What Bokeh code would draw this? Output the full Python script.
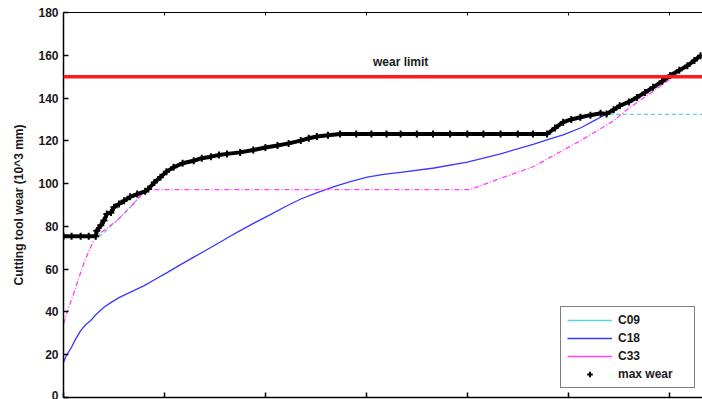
from bokeh.plotting import figure
from bokeh.models import (Range1d, LinearAxis, FixedTicker, Span, Label,
                          Legend, LegendItem)
from bokeh.embed import file_html
from bokeh.resources import INLINE

NAN = float("nan")

# ---- data ----
x_ticks = [0, 1, 2, 3, 4, 5, 6]
y_ticks = [0, 20, 40, 60, 80, 100, 120, 140, 160, 180]
wear_limit = 150

c09_x = [0.00, 0.33, 0.37, 0.53, 0.66, 0.78, 0.83, 0.96, 1.09, 1.29, 1.46, 1.62,
         1.88, 2.12, 2.35, 2.51, 2.74, 4.79, 4.95, 5.12, 5.32, 6.33]
c09_y = [75.5, 75.5, 75.7, 82.7, 88.9, 95.2, 97.2, 103.0, 107.6, 110.7, 112.6, 113.9,
         115.7, 117.8, 120.1, 122.0, 123.2, 123.2, 128.7, 131.0, 132.4, 132.4]

c18_x = [0.00, 0.03, 0.07, 0.12, 0.17, 0.22, 0.27, 0.33, 0.40, 0.48, 0.56, 0.68,
         0.80, 0.91, 1.03, 1.16, 1.29, 1.42, 1.55, 1.65, 1.75, 1.90, 2.05, 2.20,
         2.35, 2.52, 2.68, 2.85, 3.01, 3.17, 3.34, 3.67, 4.00, 4.33, 4.66, 4.82,
         4.95, 5.12, 5.28, 5.38, 5.51, 5.71, 5.91, 6.11, 6.31]
c18_y = [16.5, 19.8, 22.7, 27.3, 31.3, 34.0, 36.0, 39.2, 42.2, 44.7, 46.9, 49.6,
         52.3, 55.3, 58.5, 62.1, 65.6, 69.1, 72.6, 75.4, 78.0, 81.9, 85.5, 89.3,
         92.8, 95.9, 98.6, 101.0, 103.0, 104.3, 105.3, 107.3, 110.0, 113.9, 118.5, 120.9,
         122.8, 126.0, 130.0, 132.6, 136.4, 141.5, 147.5, 153.5, 159.8]

c33_x = [0.00, 0.05, 0.10, 0.15, 0.20, 0.25, 0.30, 0.34, 0.37, 0.53, 0.66, 0.78,
         0.83, 4.03, 4.33, 4.66, 4.79, 5.12, 5.45, 5.61, 5.78, 6.01, 6.16, 6.31]
c33_y = [34.4, 41.8, 48.5, 55.7, 62.5, 68.3, 73.4, 75.5, 77.0, 82.7, 88.9, 95.2,
         97.2, 97.2, 102.5, 108.0, 111.5, 120.0, 129.4, 135.6, 141.1, 148.9, 155.0, 159.8]

max_x = [0.00, 0.08, 0.17, 0.25, 0.32, 0.33, 0.37, 0.40, 0.43, 0.47, 0.50, 0.55,
         0.60, 0.66, 0.73, 0.81, 0.84, 0.90, 0.96, 1.02, 1.09, 1.18, 1.29, 1.37,
         1.46, 1.54, 1.62, 1.75, 1.88, 2.00, 2.12, 2.23, 2.35, 2.43, 2.51, 2.62,
         2.74, 2.90, 3.05, 3.20, 3.34, 3.50, 3.66, 3.83, 4.00, 4.16, 4.33, 4.50,
         4.65, 4.79, 4.87, 4.95, 5.03, 5.12, 5.22, 5.32, 5.38, 5.45, 5.51, 5.60,
         5.68, 5.76, 5.84, 5.93, 6.01, 6.10, 6.18, 6.25, 6.31]
max_y = [75.4, 75.4, 75.4, 75.4, 75.4, 78.0, 80.5, 82.7, 85.8, 86.5, 88.9, 90.5,
         92.0, 93.8, 95.1, 96.4, 97.5, 100.5, 103.0, 105.6, 107.6, 109.5, 110.7, 111.9,
         112.6, 113.4, 113.9, 114.6, 115.7, 116.9, 117.8, 118.8, 120.1, 121.2, 122.0, 122.6,
         123.2, 123.2, 123.2, 123.2, 123.2, 123.2, 123.2, 123.2, 123.2, 123.2, 123.2, 123.2,
         123.2, 123.2, 126.0, 128.7, 130.0, 131.0, 132.0, 132.9, 132.6, 134.5, 136.4, 138.2,
         140.3, 142.6, 145.0, 147.8, 150.5, 153.0, 155.1, 157.6, 159.8]

FONT = "Liberation Sans"
TXT = "#1a1a1a"
CYAN = "#55d5d5"
BLUE = "#3838ff"
MAGENTA = "#ff40ff"

p = figure(width=702, height=399, output_backend="svg", toolbar_location=None,
           x_range=Range1d(0, 6.33), y_range=Range1d(0, 180),
           min_border_left=63, min_border_right=0, min_border_top=12,
           min_border_bottom=2, outline_line_color=None,
           background_fill_color="white", border_fill_color="white")
p.xgrid.visible = False
p.ygrid.visible = False

# bottom axis (its labels are cut off in the reference)
blank = {t: "" for t in x_ticks}
xa = p.xaxis[0]
xa.ticker = FixedTicker(ticks=x_ticks)
xa.major_label_overrides = blank
xa.major_label_standoff = 0
xa.major_tick_in = 5
xa.major_tick_out = 0
xa.minor_tick_line_color = None
xa.axis_line_width = 1.5
xa.axis_line_color = "black"
xa.major_tick_line_width = 1.5

top = LinearAxis(ticker=FixedTicker(ticks=x_ticks), major_label_overrides=blank,
                 major_label_standoff=0, major_tick_in=3, major_tick_out=0,
                 minor_tick_line_color=None, axis_line_width=1.2, axis_line_color="black")
p.add_layout(top, "above")

ya = p.yaxis[0]
ya.ticker = FixedTicker(ticks=y_ticks)
ya.major_tick_in = 5
ya.major_tick_out = 0
ya.minor_tick_line_color = None
ya.axis_line_width = 1.5
ya.axis_line_color = "black"
ya.major_tick_line_width = 1.5
ya.major_label_text_font = FONT
ya.major_label_text_font_style = "bold"
ya.major_label_text_font_size = "12px"
ya.major_label_text_color = TXT
ya.major_label_standoff = 5
ya.axis_label = "Cutting tool wear (10^3 mm)"
ya.axis_label_text_font = FONT
ya.axis_label_text_font_style = "bold"
ya.axis_label_text_font_size = "12px"
ya.axis_label_text_color = TXT
ya.axis_label_standoff = 9

# wear limit
p.add_layout(Span(location=wear_limit, dimension="width", line_color="#ff1a1a",
                  line_width=3.5))
p.add_layout(Label(x=3.34, y=wear_limit + 3.5, text="wear limit", text_align="center",
                   text_baseline="bottom", text_font=FONT, text_font_style="bold",
                   text_font_size="12px", text_color=TXT))

# series
p.line(c09_x, c09_y, line_color=CYAN, line_width=1.2, line_dash="4 3")
p.line(c18_x, c18_y, line_color=BLUE, line_width=1.3)
p.line(c33_x, c33_y, line_color=MAGENTA, line_width=1.3, line_dash="5 2 1 2")
p.line(max_x, max_y, line_color="black", line_width=4)
p.scatter(max_x, max_y, marker="cross", size=7, line_color="black", line_width=2)

# legend proxies (NaN data: nothing drawn in the plot)
l1 = p.line([NAN], [NAN], line_color=CYAN, line_width=1.3)
l2 = p.line([NAN], [NAN], line_color=BLUE, line_width=1.5)
l3 = p.line([NAN], [NAN], line_color=MAGENTA, line_width=1.3)
m4 = p.scatter([NAN], [NAN], marker="cross", size=5, line_color="black", line_width=2)

legend = Legend(items=[LegendItem(label="C09", renderers=[l1]),
                       LegendItem(label="C18", renderers=[l2]),
                       LegendItem(label="C33", renderers=[l3]),
                       LegendItem(label="max wear", renderers=[m4])],
                location=(497, 9), orientation="vertical",
                border_line_color="black", border_line_width=1.2,
                background_fill_color="white", background_fill_alpha=1,
                label_text_font=FONT, label_text_font_style="bold",
                label_text_font_size="12px", label_text_color=TXT,
                glyph_width=45, glyph_height=14, label_height=14, label_width=70,
                spacing=4, padding=6, margin=0, label_standoff=6)
p.add_layout(legend, "center")

open("out.html", "w").write(file_html(p, INLINE))
